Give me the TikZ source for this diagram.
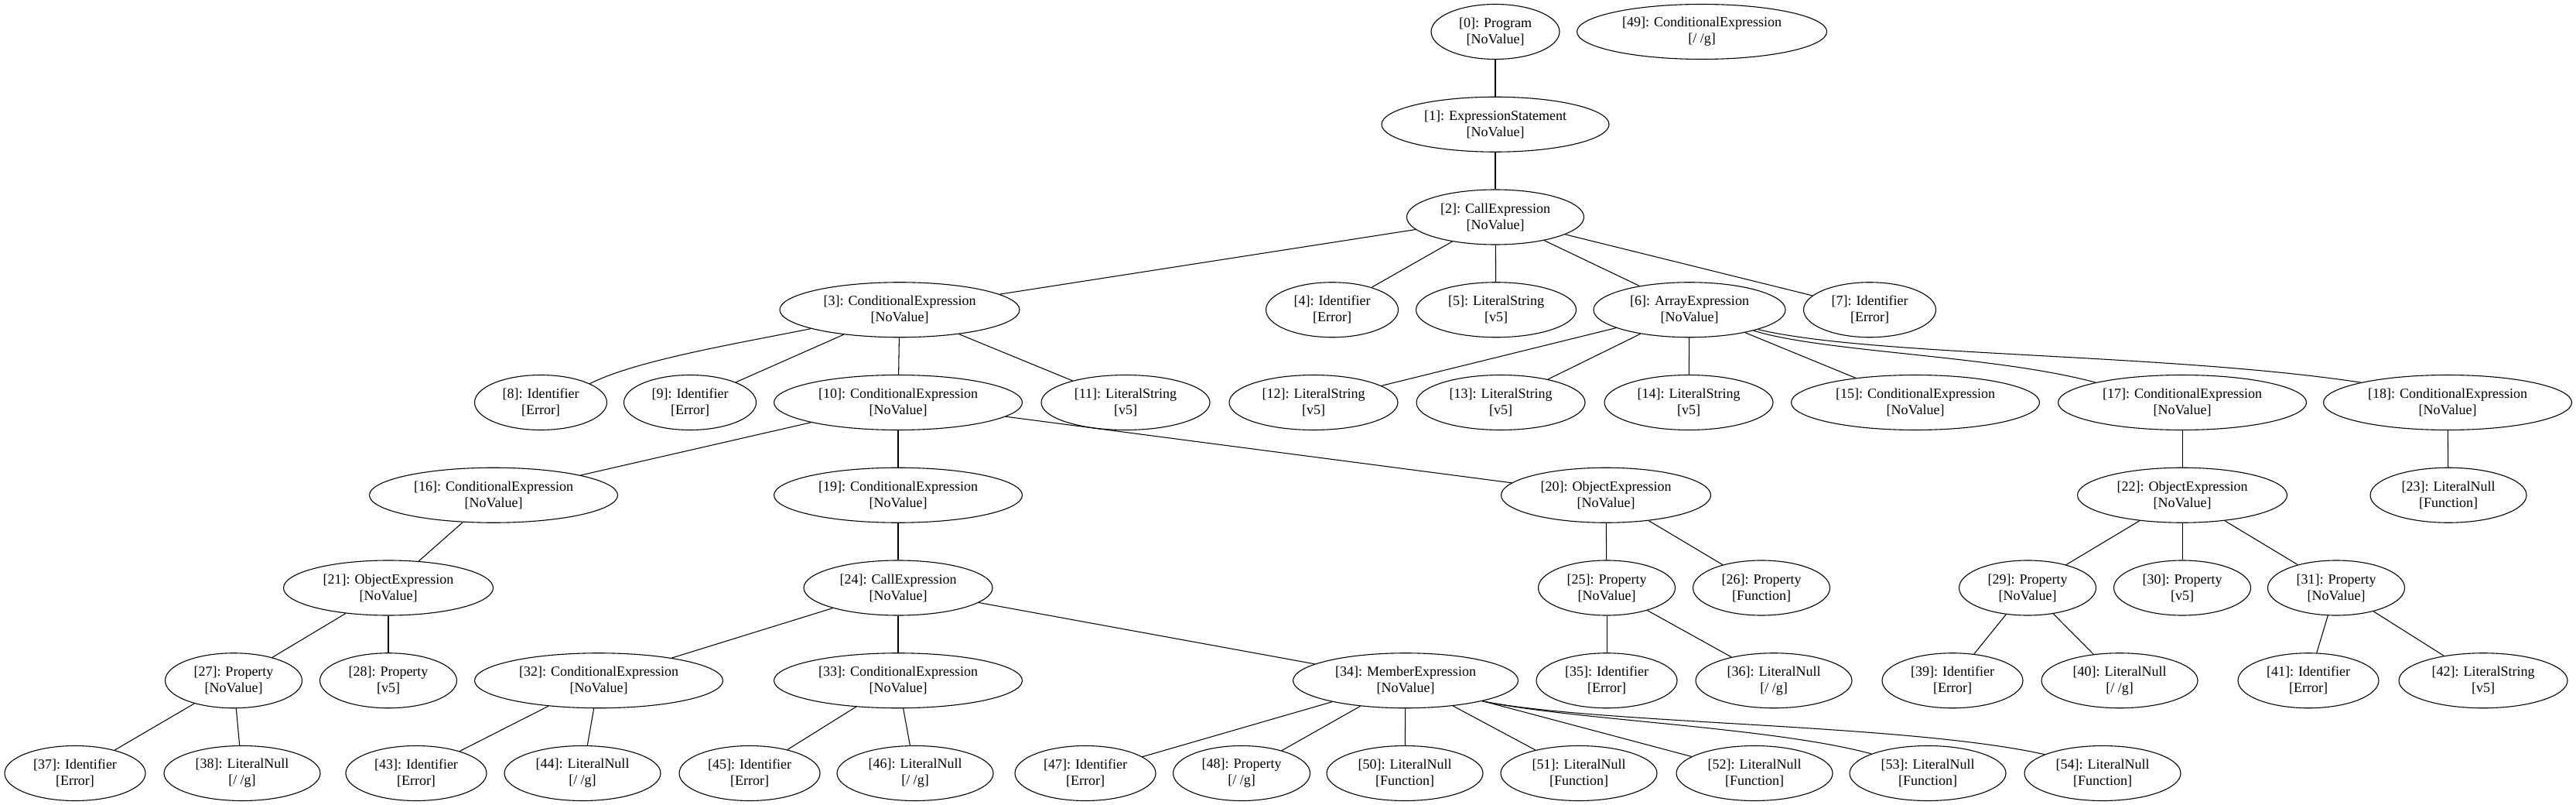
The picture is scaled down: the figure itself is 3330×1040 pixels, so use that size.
\documentclass[tikz,border=0pt]{standalone}
\usepackage{fontspec}
\setmainfont{Liberation Serif}
\usetikzlibrary{shapes.geometric}
\begin{document}
\begin{tikzpicture}[x=1pt,y=-1pt,
  nd/.style={draw, ellipse, line width=1.1pt, minimum height=71pt, minimum width=#1, inner sep=0pt, align=center, font=\fontsize{18}{21}\selectfont},
  ed/.style={line width=1.05pt}]
\useasboundingbox (0,0) rectangle (3330,1040);
% row 0
\node[nd=166pt] (n0) at (1933,41) {[0]: Program\\{[NoValue]}};
\node[nd=323pt] (n49) at (2200,41) {[49]: ConditionalExpression\\{[/ /g]}};
% row 1
\node[nd=294pt] (n1) at (1933,160.75) {[1]: ExpressionStatement\\{[NoValue]}};
% row 2
\node[nd=229pt] (n2) at (1933,280.5) {[2]: CallExpression\\{[NoValue]}};
% row 3
\node[nd=310pt] (n3) at (1163,400.25) {[3]: ConditionalExpression\\{[NoValue]}};
\node[nd=171pt] (n4) at (1722,400.25) {[4]: Identifier\\{[Error]}};
\node[nd=207pt] (n5) at (1934,400.25) {[5]: LiteralString\\{[v5]}};
\node[nd=248pt] (n6) at (2184,400.25) {[6]: ArrayExpression\\{[NoValue]}};
\node[nd=171pt] (n7) at (2417,400.25) {[7]: Identifier\\{[Error]}};
% row 4
\node[nd=171pt] (n8) at (699,520) {[8]: Identifier\\{[Error]}};
\node[nd=171pt] (n9) at (892,520) {[9]: Identifier\\{[Error]}};
\node[nd=321pt] (n10) at (1161,520) {[10]: ConditionalExpression\\{[NoValue]}};
\node[nd=218pt] (n11) at (1455,520) {[11]: LiteralString\\{[v5]}};
\node[nd=218pt] (n12) at (1698,520) {[12]: LiteralString\\{[v5]}};
\node[nd=218pt] (n13) at (1940,520) {[13]: LiteralString\\{[v5]}};
\node[nd=218pt] (n14) at (2183,520) {[14]: LiteralString\\{[v5]}};
\node[nd=321pt] (n15) at (2476,520) {[15]: ConditionalExpression\\{[NoValue]}};
\node[nd=321pt] (n17) at (2821,520) {[17]: ConditionalExpression\\{[NoValue]}};
\node[nd=321pt] (n18) at (3164,520) {[18]: ConditionalExpression\\{[NoValue]}};
% row 5
\node[nd=321pt] (n16) at (638,639.75) {[16]: ConditionalExpression\\{[NoValue]}};
\node[nd=321pt] (n19) at (1161,639.75) {[19]: ConditionalExpression\\{[NoValue]}};
\node[nd=271pt] (n20) at (2076,639.75) {[20]: ObjectExpression\\{[NoValue]}};
\node[nd=271pt] (n22) at (2821,639.75) {[22]: ObjectExpression\\{[NoValue]}};
\node[nd=202pt] (n23) at (3165,639.75) {[23]: LiteralNull\\{[Function]}};
% row 6
\node[nd=271pt] (n21) at (502,759.5) {[21]: ObjectExpression\\{[NoValue]}};
\node[nd=244pt] (n24) at (1161,759.5) {[24]: CallExpression\\{[NoValue]}};
\node[nd=177pt] (n25) at (2077,759.5) {[25]: Property\\{[NoValue]}};
\node[nd=177pt] (n26) at (2277,759.5) {[26]: Property\\{[Function]}};
\node[nd=177pt] (n29) at (2621,759.5) {[29]: Property\\{[NoValue]}};
\node[nd=177pt] (n30) at (2821,759.5) {[30]: Property\\{[v5]}};
\node[nd=177pt] (n31) at (3020,759.5) {[31]: Property\\{[NoValue]}};
% row 7
\node[nd=177pt] (n27) at (302,879.25) {[27]: Property\\{[NoValue]}};
\node[nd=177pt] (n28) at (502,879.25) {[28]: Property\\{[v5]}};
\node[nd=321pt] (n32) at (774,879.25) {[32]: ConditionalExpression\\{[NoValue]}};
\node[nd=321pt] (n33) at (1161,879.25) {[33]: ConditionalExpression\\{[NoValue]}};
\node[nd=291pt] (n34) at (1817,879.25) {[34]: MemberExpression\\{[NoValue]}};
\node[nd=182pt] (n35) at (2077,879.25) {[35]: Identifier\\{[Error]}};
\node[nd=202pt] (n36) at (2293,879.25) {[36]: LiteralNull\\{[/ /g]}};
\node[nd=182pt] (n39) at (2524,879.25) {[39]: Identifier\\{[Error]}};
\node[nd=202pt] (n40) at (2740,879.25) {[40]: LiteralNull\\{[/ /g]}};
\node[nd=182pt] (n41) at (2984,879.25) {[41]: Identifier\\{[Error]}};
\node[nd=218pt] (n42) at (3210,879.25) {[42]: LiteralString\\{[v5]}};
% row 8
\node[nd=182pt] (n37) at (97,999) {[37]: Identifier\\{[Error]}};
\node[nd=202pt] (n38) at (313,999) {[38]: LiteralNull\\{[/ /g]}};
\node[nd=182pt] (n43) at (538,999) {[43]: Identifier\\{[Error]}};
\node[nd=202pt] (n44) at (753,999) {[44]: LiteralNull\\{[/ /g]}};
\node[nd=182pt] (n45) at (969,999) {[45]: Identifier\\{[Error]}};
\node[nd=202pt] (n46) at (1183,999) {[46]: LiteralNull\\{[/ /g]}};
\node[nd=182pt] (n47) at (1403,999) {[47]: Identifier\\{[Error]}};
\node[nd=177pt] (n48) at (1605,999) {[48]: Property\\{[/ /g]}};
\node[nd=202pt] (n50) at (1816,999) {[50]: LiteralNull\\{[Function]}};
\node[nd=202pt] (n51) at (2041,999) {[51]: LiteralNull\\{[Function]}};
\node[nd=202pt] (n52) at (2268,999) {[52]: LiteralNull\\{[Function]}};
\node[nd=202pt] (n53) at (2492,999) {[53]: LiteralNull\\{[Function]}};
\node[nd=202pt] (n54) at (2718,999) {[54]: LiteralNull\\{[Function]}};
% edges
\draw[ed] (n0) -- (n1);
\draw[ed] (n1) -- (n2);
\draw[ed] (n2) -- (n3);
\draw[ed] (n2) -- (n4);
\draw[ed] (n2) -- (n5);
\draw[ed] (n2) -- (n6);
\draw[ed] (n2) -- (n7);
\draw[ed] (n3.192) .. controls +(-100,20) and +(60,-30) .. (n8.21.3);
\draw[ed] (n3) -- (n9);
\draw[ed] (n3) -- (n10);
\draw[ed] (n3) -- (n11);
\draw[ed] (n6) -- (n12);
\draw[ed] (n6) -- (n13);
\draw[ed] (n6) -- (n14);
\draw[ed] (n6) -- (n15);
\draw[ed] (n6.-18) .. controls +(90,28) and +(-130,-35) .. (n17.167.8);
\draw[ed] (n6.-16) .. controls +(147,35) and +(-252,-38) .. (n18.167);
\draw[ed] (n10) -- (n16);
\draw[ed] (n10) -- (n19);
\draw[ed] (n10) -- (n20);
\draw[ed] (n17) -- (n22);
\draw[ed] (n18) -- (n23);
\draw[ed] (n16) -- (n21);
\draw[ed] (n19) -- (n24);
\draw[ed] (n20) -- (n25);
\draw[ed] (n20) -- (n26);
\draw[ed] (n22) -- (n29);
\draw[ed] (n22) -- (n30);
\draw[ed] (n22) -- (n31);
\draw[ed] (n21) -- (n27);
\draw[ed] (n21) -- (n28);
\draw[ed] (n24) -- (n32);
\draw[ed] (n24) -- (n33);
\draw[ed] (n24) -- (n34);
\draw[ed] (n25) -- (n35);
\draw[ed] (n25) -- (n36);
\draw[ed] (n29) -- (n39);
\draw[ed] (n29) -- (n40);
\draw[ed] (n31) -- (n41);
\draw[ed] (n31) -- (n42);
\draw[ed] (n27) -- (n37);
\draw[ed] (n27) -- (n38);
\draw[ed] (n32) -- (n43);
\draw[ed] (n32) -- (n44);
\draw[ed] (n33) -- (n45);
\draw[ed] (n33) -- (n46);
\draw[ed] (n34) -- (n47);
\draw[ed] (n34) -- (n48);
\draw[ed] (n34) -- (n50);
\draw[ed] (n34) -- (n51);
\draw[ed] (n34) -- (n52);
\draw[ed] (n34.-15.4) .. controls +(120,25) and +(-130,-35) .. (n53.161);
\draw[ed] (n34.-15.4) .. controls +(150,30) and +(-180,-40) .. (n54.162);
\end{tikzpicture}
\end{document}
